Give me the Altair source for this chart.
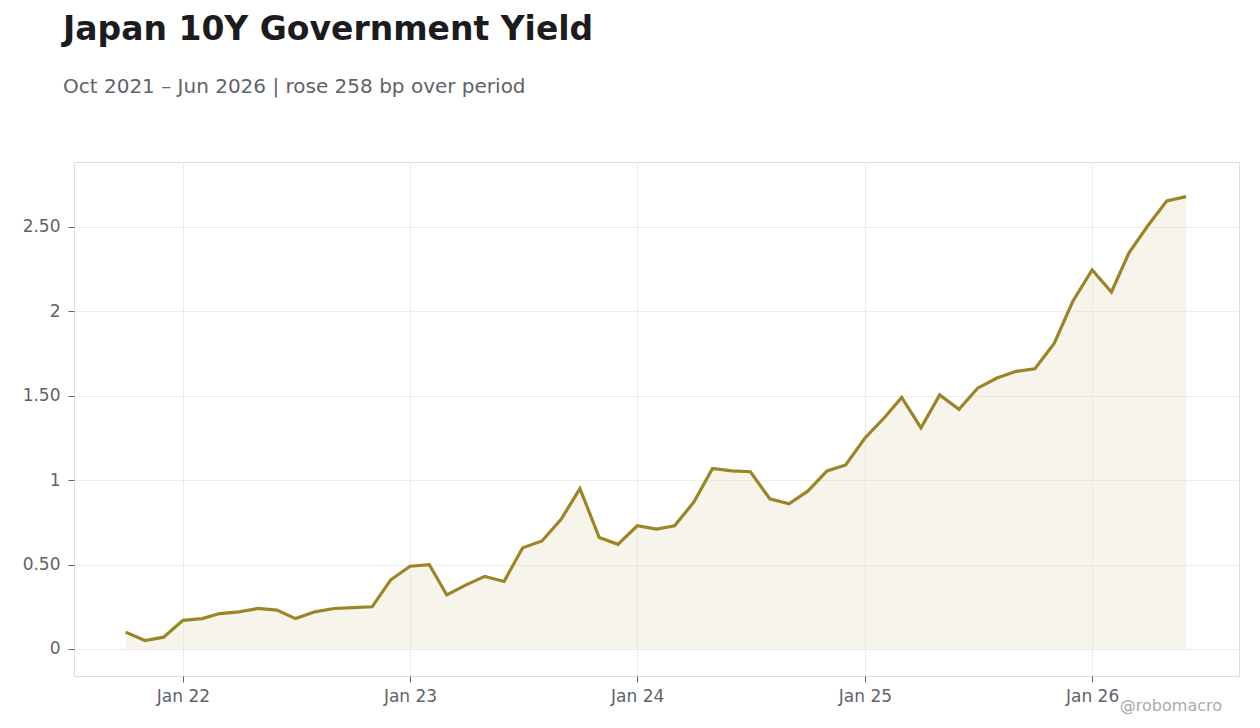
import altair as alt
import pandas as pd

months = pd.date_range("2021-10-01", "2026-06-01", freq="MS").strftime("%Y-%m-%d").tolist()
yields = [
    0.10, 0.05, 0.07, 0.17, 0.18, 0.21, 0.22, 0.24, 0.23, 0.18,
    0.22, 0.24, 0.245, 0.25, 0.41, 0.49, 0.50, 0.32, 0.38, 0.43,
    0.40, 0.60, 0.64, 0.77, 0.95, 0.66, 0.62, 0.73, 0.71, 0.73,
    0.87, 1.07, 1.055, 1.05, 0.89, 0.86, 0.935, 1.055, 1.09, 1.25,
    1.37, 1.49, 1.31, 1.505, 1.42, 1.545, 1.605, 1.645, 1.66, 1.81,
    2.06, 2.245, 2.115, 2.345, 2.51, 2.655, 2.68,
]
tick_years = [2022, 2023, 2024, 2025, 2026]

df = pd.DataFrame({"date": months, "yield": yields})

W, H = 1165, 514
LINE = "#9c8526"
FONT = "DejaVu Sans"

x = alt.X(
    "date:T",
    title=None,
    scale=alt.Scale(domain=[alt.DateTime(year=2021, month=7, date=10),
                            alt.DateTime(year=2026, month=8, date=25)]),
    axis=alt.Axis(values=[alt.DateTime(year=y, month=1, date=1) for y in tick_years],
                  format="%b %y", labelFontSize=17, labelColor="#5f6368",
                  tickColor="#5f6368", tickSize=6, labelPadding=6,
                  domain=False, gridColor="#ececec"),
)
y = alt.Y(
    "yield:Q",
    title=None,
    scale=alt.Scale(domain=[-0.16, 2.885], nice=False, zero=False),
    axis=alt.Axis(values=[0, 0.5, 1, 1.5, 2, 2.5],
                  labelExpr="datum.value % 1 == 0 ? format(datum.value, 'd') : format(datum.value, '.2f')",
                  labelFontSize=17, labelColor="#5f6368", tickColor="#5f6368",
                  tickSize=6, labelPadding=8, domain=False, gridColor="#ececec"),
)

base = alt.Chart(df).encode(x=x)
area = base.mark_area(color="#e8dfc6", opacity=0.35).encode(y=y, y2=alt.datum(0))
line = base.mark_line(color=LINE, strokeWidth=3.2).encode(y=y)

mark = alt.Chart(pd.DataFrame({"t": ["@robomacro"]})).mark_text(
    align="right", baseline="alphabetic", fontSize=16, color="#aaaaaa", font=FONT
).encode(x=alt.value(1148), y=alt.value(549), text="t:N")

chart = (area + line + mark).properties(
    width=W, height=H,
    autosize=alt.AutoSizeParams(type="none"),
    padding={"left": 66, "top": 154, "right": 12, "bottom": 40},
    title=alt.Title(
        "Japan 10Y Government Yield",
        subtitle="Oct 2021 – Jun 2026 | rose 258 bp over period",
        anchor="start", frame="group", dx=-11, offset=65,
        font=FONT, fontSize=33, fontWeight="bold", color="#1c1c1e",
        subtitleFont=FONT, subtitleFontSize=20, subtitleColor="#5f6368",
        subtitlePadding=30,
    ),
).configure_view(stroke="#dddddd").configure_axis(labelFont=FONT)

chart.save("out.html", embed_options={"renderer": "svg", "actions": False})
